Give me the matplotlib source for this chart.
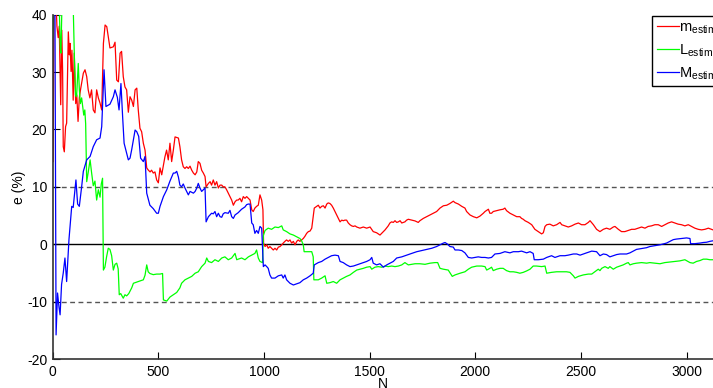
import matplotlib
matplotlib.use("Agg")
import matplotlib.pyplot as plt

plt.rcParams["font.family"] = ["Liberation Sans", "DejaVu Sans"]
plt.rcParams["mathtext.fontset"] = "custom"
plt.rcParams["mathtext.rm"] = "Liberation Sans"
plt.rcParams["axes.unicode_minus"] = False

# relative estimation error (%) against number of samples N
n_m = [2, 7, 14, 20, 26, 31, 35, 38, 43, 47, 50, 55, 61, 66, 74, 79, 82, 87, 91, 97,
       102, 109, 114, 120, 126, 132, 139, 145, 153, 161, 168, 176, 184, 192, 200, 208,
       216, 224, 232, 240, 248, 256, 263, 271, 287, 295, 303, 311, 319, 326, 334, 342,
       350, 358, 366, 374, 382, 390, 398, 405, 413, 421, 429, 437, 445, 453, 461, 468,
       476, 484, 492, 500, 508, 516, 524, 531, 539, 547, 555, 563, 571, 579, 595, 602,
       610, 618, 626, 634, 642, 650, 658, 666, 674, 682, 689, 697, 705, 713, 721, 726,
       737, 745, 752, 760, 768, 776, 784, 792, 800, 807, 815, 823, 831, 839, 847, 855,
       863, 871, 878, 886, 894, 902, 910, 918, 926, 934, 942, 949, 957, 965, 973, 981,
       989, 995, 998, 1005, 1013, 1020, 1028, 1036, 1044, 1052, 1060, 1068, 1076, 1084,
       1091, 1099, 1107, 1115, 1123, 1131, 1139, 1147, 1155, 1162, 1170, 1178, 1186,
       1194, 1202, 1210, 1218, 1226, 1233, 1238, 1249, 1257, 1265, 1273, 1281, 1289,
       1297, 1304, 1312, 1320, 1328, 1336, 1344, 1352, 1360, 1368, 1375, 1383, 1391,
       1399, 1407, 1415, 1423, 1431, 1439, 1454, 1470, 1486, 1502, 1517, 1533, 1549,
       1557, 1565, 1573, 1588, 1596, 1604, 1612, 1620, 1628, 1636, 1644, 1652, 1659,
       1667, 1675, 1683, 1699, 1715, 1730, 1738, 1754, 1770, 1786, 1801, 1817, 1833,
       1849, 1865, 1880, 1896, 1904, 1920, 1936, 1951, 1959, 1975, 1991, 2007, 2022,
       2038, 2046, 2062, 2069, 2077, 2085, 2101, 2117, 2132, 2140, 2148, 2164, 2180,
       2196, 2211, 2219, 2227, 2235, 2251, 2267, 2282, 2298, 2314, 2322, 2330, 2338,
       2353, 2369, 2385, 2401, 2409, 2424, 2440, 2456, 2472, 2488, 2503, 2519, 2535,
       2543, 2559, 2574, 2590, 2606, 2621, 2637, 2653, 2661, 2677, 2692, 2708, 2724,
       2740, 2755, 2771, 2787, 2803, 2818, 2834, 2850, 2866, 2882, 2897, 2913, 2929,
       2945, 2960, 2976, 2992, 3008, 3024, 3039, 3055, 3071, 3087, 3103, 3118, 3125]
err_m = [14.4, 45, 44, 38, 36, 38, 30, 24.3, 37.3, 30, 17, 16.1, 20.5, 21.1, 37, 33, 35,
         30.1, 33.8, 25.1, 33.3, 24.5, 26, 21.4, 25.5, 27, 28.5, 29.8, 30.4, 29.2, 26.9,
         25.5, 26.9, 23.4, 22.9, 26.9, 25.5, 24.6, 23.4, 35.0, 38.2, 37.9, 36.2, 34.2,
         34.4, 35.2, 28.6, 28.3, 33.3, 33.6, 29.2, 27.4, 26.9, 23.0, 25.7, 25.1, 24.0,
         26.9, 27.2, 23.4, 20.2, 19.6, 17.6, 16.4, 13.3, 12.9, 12.6, 12.9, 12.4, 12.6,
         11.2, 10.7, 13.3, 12.1, 13.8, 15.2, 16.4, 14.7, 17.6, 14.4, 16.4, 18.7, 18.5,
         17.0, 14.7, 13.5, 13.2, 13.5, 13.2, 13.6, 12.9, 12.4, 12.1, 12.6, 14.4, 14.1,
         12.9, 12.4, 11.8, 10.0, 10.6, 10.9, 10.3, 11.2, 10.3, 10.9, 9.8, 10.3, 10.3,
         10.0, 10.0, 9.5, 8.9, 8.3, 7.7, 6.8, 7.4, 7.7, 7.7, 8.0, 7.4, 8.3, 8.0, 8.3,
         8.0, 7.7, 6.0, 5.7, 6.3, 6.6, 6.8, 8.6, 7.7, 6.0, 0.2, -0.4, -0.1, -0.7, -0.4,
         -0.7, -1.0, -0.7, -1.0, -0.5, -0.4, -0.1, 0.2, 0.5, 0.75, 0.5, 0.75, 0.2, 0.5,
         -0.1, 0.5, 0.75, 0.5, 0.75, 1.0, 1.4, 1.9, 2.2, 2.3, 2.8, 4.8, 6.3, 6.6, 6.8,
         6.3, 6.6, 6.7, 6.3, 7.0, 7.2, 7.1, 6.8, 6.3, 5.7, 5.1, 4.5, 3.9, 4.2, 4.1, 4.2,
         4.2, 3.7, 3.4, 3.2, 3.1, 3.2, 3.0, 2.8, 3.0, 2.8, 3.0, 2.2, 2.0, 1.6, 1.9, 2.2,
         2.5, 3.2, 3.7, 3.9, 3.8, 4.1, 3.8, 3.9, 4.1, 3.7, 3.8, 3.9, 4.2, 4.35, 4.2,
         4.06, 3.8, 4.1, 4.5, 4.8, 5.1, 5.4, 5.7, 6.3, 6.7, 6.8, 7.1, 7.5, 7.25, 7.0,
         6.6, 6.3, 5.7, 5.1, 4.8, 4.6, 4.9, 5.4, 5.7, 6.1, 5.4, 5.4, 5.7, 5.85, 6.0,
         6.1, 6.3, 5.85, 5.4, 5.1, 4.8, 4.8, 4.5, 4.35, 4.1, 3.8, 3.4, 2.6, 2.2, 1.8,
         2.0, 3.1, 3.4, 3.5, 3.2, 3.4, 3.8, 3.4, 3.2, 3.0, 3.2, 3.5, 3.7, 3.4, 3.4, 3.8,
         4.1, 3.4, 2.6, 2.2, 2.6, 2.8, 2.6, 3.0, 3.1, 2.6, 2.2, 2.2, 2.4, 2.6, 2.6, 2.8,
         3.0, 2.8, 3.1, 3.2, 3.4, 3.4, 3.1, 3.4, 3.7, 3.9, 3.7, 3.5, 3.4, 3.2, 3.4, 3.1,
         2.8, 2.6, 2.5, 2.6, 2.8, 2.6, 2.5]

n_L = [1, 6, 20, 30, 36, 39, 44, 70, 92, 98, 103, 108, 113, 121, 126, 131, 137, 142,
       147, 152, 156, 161, 168, 177, 184, 192, 200, 208, 216, 224, 230, 236, 240, 247,
       255, 263, 271, 279, 287, 295, 303, 310, 315, 322, 334, 342, 350, 360, 374, 382,
       397, 413, 429, 437, 445, 452, 460, 476, 492, 508, 520, 524, 540, 555, 571, 587,
       602, 610, 626, 642, 658, 674, 689, 705, 721, 729, 737, 752, 768, 784, 800, 815,
       831, 847, 863, 871, 878, 894, 910, 926, 942, 957, 965, 973, 981, 993, 997, 1005,
       1020, 1036, 1052, 1068, 1084, 1091, 1107, 1123, 1139, 1155, 1170, 1178, 1186,
       1190, 1210, 1226, 1233, 1236, 1257, 1273, 1289, 1297, 1312, 1328, 1344, 1360,
       1375, 1391, 1407, 1423, 1439, 1454, 1470, 1486, 1502, 1510, 1525, 1541, 1557,
       1573, 1588, 1604, 1620, 1636, 1652, 1667, 1683, 1699, 1715, 1738, 1762, 1786,
       1809, 1822, 1833, 1849, 1872, 1891, 1904, 1928, 1951, 1967, 1983, 2007, 2030,
       2046, 2054, 2069, 2077, 2085, 2101, 2117, 2132, 2148, 2164, 2180, 2196, 2211,
       2227, 2243, 2259, 2274, 2290, 2314, 2330, 2338, 2361, 2385, 2409, 2432, 2448,
       2464, 2472, 2488, 2511, 2535, 2551, 2566, 2582, 2590, 2598, 2614, 2629, 2637,
       2653, 2669, 2685, 2700, 2716, 2724, 2732, 2748, 2763, 2787, 2811, 2826, 2850,
       2874, 2897, 2921, 2945, 2968, 2992, 3016, 3031, 3047, 3063, 3079, 3095, 3110,
       3125]
err_L = [36, 44, 46, 43, 34, 33.3, 42, 48, 45, 40, 32.1, 26, 25.7, 31.5, 27, 24.5, 25.5,
         24, 22.5, 23.4, 21, 10.9, 12.5, 14.7, 12.5, 10.2, 11, 7.7, 9.5, 8.2, 10.5, 11.5,
         -4.5, -4.0, -2.2, -0.7, -0.9, -2.0, -4.5, -3.5, -3.3, -4.3, -8.8, -8.6, -9.4,
         -8.8, -9.0, -8.6, -7.6, -6.8, -6.6, -6.4, -6.2, -5.4, -3.6, -4.8, -5.1, -5.3,
         -5.2, -5.2, -5.1, -9.7, -9.9, -9.2, -8.8, -8.4, -7.6, -6.8, -6.2, -5.9, -5.6,
         -5.05, -4.8, -3.9, -3.3, -2.4, -3.0, -3.2, -2.7, -3.0, -2.4, -2.2, -2.7, -2.4,
         -1.6, -2.7, -2.6, -2.4, -2.7, -2.2, -1.9, -1.6, -1.0, -2.4, -3.0, -3.2, 1.5, 2.4,
         2.8, 2.6, 3.0, 2.9, 3.2, 2.5, 2.2, 1.8, 1.6, 1.3, 1.0, 0.6, -0.1, -1.3, -1.3,
         -1.3, -2.2, -6.2, -6.2, -5.9, -5.5, -6.8, -6.7, -6.5, -6.8, -6.2, -5.9, -5.6,
         -5.35, -4.9, -4.5, -4.35, -4.2, -4.0, -3.9, -4.35, -4.0, -3.9, -4.0, -3.8, -3.9,
         -3.8, -3.9, -3.8, -3.6, -3.2, -3.6, -3.5, -3.4, -3.4, -3.5, -3.3, -3.2, -3.2,
         -4.2, -4.35, -4.5, -5.6, -5.35, -5.05, -4.8, -4.35, -4.0, -3.8, -3.8, -3.9, -4.5,
         -4.2, -4.0, -4.6, -4.35, -4.2, -4.2, -4.6, -4.8, -4.8, -4.9, -5.05, -4.9, -4.65,
         -4.35, -3.8, -3.8, -3.9, -3.8, -5.05, -4.9, -4.8, -4.8, -4.8, -4.9, -5.5, -5.9,
         -5.6, -5.35, -5.2, -5.2, -4.8, -4.35, -4.6, -4.2, -3.9, -4.2, -3.9, -4.35, -4.0,
         -3.8, -3.6, -3.3, -3.2, -3.6, -3.4, -3.3, -3.2, -3.3, -3.2, -3.3, -3.4, -3.2,
         -3.1, -3.0, -2.9, -2.7, -3.2, -3.3, -3.0, -2.85, -2.6, -2.6, -2.7, -2.7]

n_M = [2, 10, 16, 23, 30, 35, 42, 50, 58, 66, 77, 90, 97, 110, 118, 126, 137, 145, 161,
       177, 192, 208, 224, 232, 243, 252, 271, 287, 295, 306, 314, 323, 331, 338, 358,
       366, 374, 390, 398, 407, 416, 429, 437, 445, 460, 476, 492, 500, 508, 524, 540,
       555, 571, 579, 587, 595, 602, 610, 618, 626, 634, 642, 650, 666, 674, 682, 689,
       697, 705, 713, 721, 726, 737, 752, 760, 768, 776, 784, 792, 800, 807, 815, 831,
       839, 847, 855, 863, 878, 894, 910, 918, 926, 934, 942, 949, 957, 965, 973, 981,
       989, 997, 1005, 1013, 1020, 1028, 1036, 1052, 1068, 1084, 1091, 1099, 1107, 1123,
       1139, 1155, 1170, 1186, 1202, 1218, 1233, 1238, 1257, 1273, 1289, 1304, 1320,
       1336, 1352, 1360, 1375, 1391, 1407, 1423, 1439, 1454, 1470, 1486, 1502, 1510,
       1517, 1533, 1549, 1565, 1581, 1596, 1612, 1628, 1652, 1675, 1699, 1723, 1746,
       1770, 1794, 1817, 1833, 1849, 1857, 1869, 1880, 1896, 1904, 1920, 1936, 1951,
       1967, 1983, 1999, 2014, 2030, 2046, 2062, 2077, 2093, 2117, 2140, 2164, 2180,
       2204, 2219, 2243, 2259, 2274, 2279, 2298, 2322, 2338, 2361, 2377, 2401, 2424,
       2440, 2464, 2480, 2496, 2511, 2527, 2551, 2574, 2590, 2606, 2621, 2637, 2653,
       2669, 2685, 2700, 2716, 2732, 2748, 2763, 2779, 2795, 2811, 2826, 2842, 2858,
       2874, 2889, 2905, 2921, 2937, 2952, 2976, 3000, 3016, 3019, 3039, 3063, 3079,
       3095, 3110, 3125]
err_M = [60, 48, -15.8, -8.5, -11, -12.3, -7, -5, -2.4, -6.5, 0.8, 6.6, 6.4, 11.2, 7,
         6.6, 10, 12.7, 14.7, 15.3, 17, 18.2, 18.5, 20.5, 30.4, 24.0, 24.4, 25.7, 26.9,
         25.6, 23.4, 28.0, 22.2, 17.6, 14.7, 15.0, 16.5, 19.9, 19.6, 18.8, 15.0, 14.4,
         15.3, 8.9, 6.8, 6.2, 5.4, 5.4, 6.6, 8.3, 9.5, 11.0, 12.4, 12.4, 12.7, 11.7, 10.3,
         10.0, 10.5, 9.8, 9.2, 8.6, 9.2, 8.9, 9.2, 9.8, 10.6, 9.8, 9.2, 9.5, 9.8, 3.9,
         4.8, 5.4, 5.3, 5.7, 4.8, 5.4, 4.8, 4.7, 5.3, 5.5, 5.4, 5.9, 4.8, 4.5, 5.1, 5.5,
         6.1, 6.5, 6.9, 7.0, 7.0, 3.7, 3.4, 1.9, 2.4, 1.9, 3.1, 2.8, -3.9, -3.6, -3.9,
         -4.2, -5.35, -5.9, -5.9, -5.5, -5.35, -5.9, -5.35, -6.2, -6.8, -7.1, -6.9, -6.7,
         -6.2, -5.9, -5.5, -5.05, -3.6, -3.2, -3.0, -2.6, -2.3, -2.0, -1.9, -2.0, -3.0,
         -3.2, -3.6, -3.9, -3.8, -3.6, -3.4, -3.2, -3.0, -2.7, -2.3, -3.3, -3.6, -3.4,
         -4.0, -3.6, -3.3, -3.0, -2.4, -2.2, -1.9, -1.6, -1.3, -1.1, -0.9, -0.7, -0.4,
         -0.1, 0.2, 0.3, 0.0, -0.4, -0.5, -1.0, -1.0, -1.1, -1.5, -2.3, -2.4, -2.3, -2.2,
         -2.3, -2.3, -2.4, -2.3, -1.7, -1.6, -1.3, -1.5, -1.3, -1.3, -1.2, -1.5, -1.3,
         -1.6, -2.7, -2.7, -2.6, -2.3, -2.0, -2.3, -2.0, -2.0, -1.9, -1.7, -1.7, -1.9,
         -1.7, -1.5, -1.2, -1.3, -2.0, -1.7, -1.8, -2.2, -2.0, -1.8, -1.7, -1.7, -1.7,
         -1.5, -1.2, -0.9, -0.8, -0.7, -0.6, -0.4, -0.3, -0.2, -0.1, 0.05, 0.2, 0.5, 0.8,
         0.9, 1.0, 1.1, 1.0, 0.1, 0.1, 0.2, 0.3, 0.35, 0.5, 0.6]

x_ticks = [0, 500, 1000, 1500, 2000, 2500, 3000]
y_ticks = [-20, -10, 0, 10, 20, 30, 40]
band = 10  # +/- tolerance band

fig = plt.figure(figsize=(7.13, 3.88), dpi=100)
ax = fig.add_axes([0.0739, 0.0747, 0.9261, 0.8875])

ax.plot(n_m, err_m, color=(1, 0, 0), lw=0.9, label=r"m$_{\rm estim}$")
ax.plot(n_L, err_L, color=(0, 1, 0), lw=0.9, label=r"L$_{\rm estim}$")
ax.plot(n_M, err_M, color=(0, 0, 1), lw=0.9, label=r"M$_{\rm estim}$")

ax.axhline(0, color="black", lw=1.0, zorder=1)
for yb in (band, -band):
    ax.axhline(yb, color="#555555", lw=1.0, ls=(0, (3.5, 2.5)), zorder=1)

ax.set_xlim(0, 3125)
ax.set_ylim(-20, 40)
ax.set_xticks(x_ticks)
ax.set_yticks(y_ticks)
ax.tick_params(direction="in", length=5, width=0.8, labelsize=10, pad=4)

for side in ("top", "right"):
    ax.spines[side].set_visible(False)
for side in ("left", "bottom"):
    ax.spines[side].set_color("#333333")
    ax.spines[side].set_linewidth(1.2)

ax.set_xlabel("N", fontsize=10)
ax.xaxis.set_label_coords(0.5, -0.053)
ax.set_ylabel("e (%)", fontsize=10)
ax.yaxis.set_label_coords(-0.04, 0.5)

leg = ax.legend(loc="upper left", bbox_to_anchor=(0.908, 0.996), borderaxespad=0,
                fontsize=10.5, handlelength=1.5, handletextpad=0.05, labelspacing=0.42,
                borderpad=0.3, fancybox=False, framealpha=1)
leg.get_frame().set_edgecolor("black")
leg.get_frame().set_linewidth(1.0)

fig.savefig("out.png", dpi=100)
